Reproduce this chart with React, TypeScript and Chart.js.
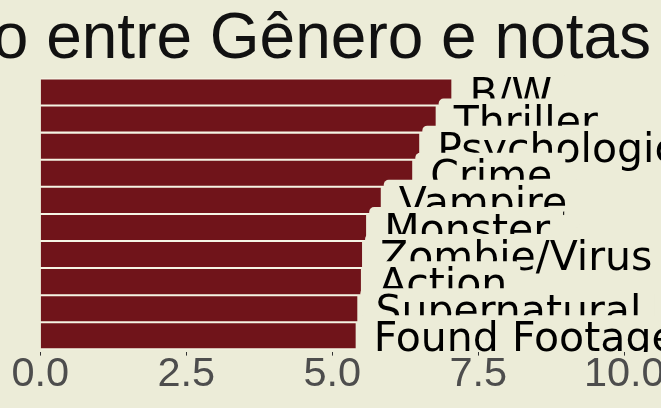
import React, { useEffect, useRef } from "react";
import { Chart, registerables } from "chart.js";

Chart.register(...registerables);

const TITLE = "Relação entre Gênero e notas";
const genres = [
  "B/W",
  "Thriller",
  "Psychological",
  "Crime",
  "Vampire",
  "Monster",
  "Zombie/Virus",
  "Action",
  "Supernatural",
  "Found Footage",
];
const ratings = [7.04, 6.77, 6.49, 6.37, 5.83, 5.58, 5.51, 5.49, 5.43, 5.4];
const xTicks = [0, 2.5, 5, 7.5, 10];

const BG = "#ECECD8";
const BAR = "#70141A";
const GAP = "#F5F4E4";

export default function App() {
  const ref = useRef<HTMLCanvasElement | null>(null);

  useEffect(() => {
    document.body.style.margin = "0";
    document.body.style.background = BG;
    const canvas = ref.current;
    if (!canvas) return;

    const bgPlugin = {
      id: "bg",
      beforeDraw(chart: any) {
        const { ctx, width, height } = chart;
        ctx.save();
        ctx.fillStyle = BG;
        ctx.fillRect(0, 0, width, height);
        ctx.restore();
      },
    };

    const labelPlugin = {
      id: "labels",
      afterDatasetsDraw(chart: any) {
        const { ctx, chartArea } = chart;
        const xs = chart.scales.x;
        const ys = chart.scales.y;
        ctx.save();
        ctx.beginPath();
        ctx.rect(0, chartArea.top, chart.width, chartArea.bottom - chartArea.top);
        ctx.clip();
        ctx.font = '41px "DejaVu Sans"';
        for (let i = 0; i < genres.length; i++) {
          const cy = ys.getPixelForValue(i);
          const xe = xs.getPixelForValue(ratings[i]);
          const tw = ctx.measureText(genres[i]).width;
          const bx = xe + 3;
          const by = cy - 20.5;
          const bw = 15 + tw + 13;
          const bh = 48;
          ctx.fillStyle = BG;
          ctx.beginPath();
          if ((ctx as any).roundRect) (ctx as any).roundRect(bx, by, bw, bh, 5);
          else ctx.rect(bx, by, bw, bh);
          ctx.fill();
          ctx.fillStyle = "#000000";
          ctx.textAlign = "left";
          ctx.textBaseline = "alphabetic";
          ctx.fillText(genres[i], bx + 15, cy + 15.5);
        }
        ctx.restore();
      },
      afterDraw(chart: any) {
        const { ctx } = chart;
        ctx.save();
        ctx.font = '64px "Liberation Sans"';
        ctx.fillStyle = "#111111";
        ctx.textAlign = "right";
        ctx.textBaseline = "alphabetic";
        ctx.fillText(TITLE, 651, 57.5);
        ctx.restore();
      },
    };

    const chart = new Chart(canvas, {
      type: "bar",
      data: {
        datasets: [
          {
            data: ratings.map((v, i) => ({ x: v, y: i })),
            backgroundColor: BAR,
            borderColor: GAP,
            borderWidth: { top: 1.35, bottom: 1.35, left: 0, right: 0 },
            borderSkipped: false,
            barPercentage: 1,
            categoryPercentage: 1,
          },
        ],
      },
      options: {
        indexAxis: "y",
        animation: false,
        responsive: false,
        maintainAspectRatio: false,
        layout: { padding: { left: 40.3, top: 75.7, right: 0, bottom: 0 } },
        plugins: { legend: { display: false }, tooltip: { enabled: false }, title: { display: false } },
        scales: {
          x: {
            type: "linear",
            min: 0,
            max: (661 - 40.3) / 58.4,
            afterBuildTicks(scale: any) {
              scale.ticks = xTicks.map((v) => ({ value: v }));
            },
            afterFit(scale: any) {
              scale.height = 408 - 352.1;
              scale.paddingLeft = 0;
              scale.paddingRight = 0;
            },
            border: { display: false },
            grid: {
              drawOnChartArea: false,
              drawTicks: true,
              tickLength: 3.5,
              tickColor: "#333333",
              tickWidth: 1,
            },
            ticks: {
              autoSkip: false,
              maxRotation: 0,
              minRotation: 0,
              padding: -6,
              color: "#4D4D4D",
              font: { family: "Liberation Sans", size: 41.5 },
              callback: (v: any) => Number(v).toFixed(1),
            },
          },
          y: {
            type: "linear",
            display: false,
            offset: false,
            min: -0.6,
            max: 9.6,
            reverse: true,
            afterBuildTicks(scale: any) {
              scale.ticks = genres.map((_, i) => ({ value: i }));
            },
          },
        },
      },
      plugins: [bgPlugin, labelPlugin],
    });

    return () => chart.destroy();
  }, []);

  return (
    <div style={{ width: 661, height: 408 }}>
      <canvas ref={ref} width={661} height={408} />
    </div>
  );
}
